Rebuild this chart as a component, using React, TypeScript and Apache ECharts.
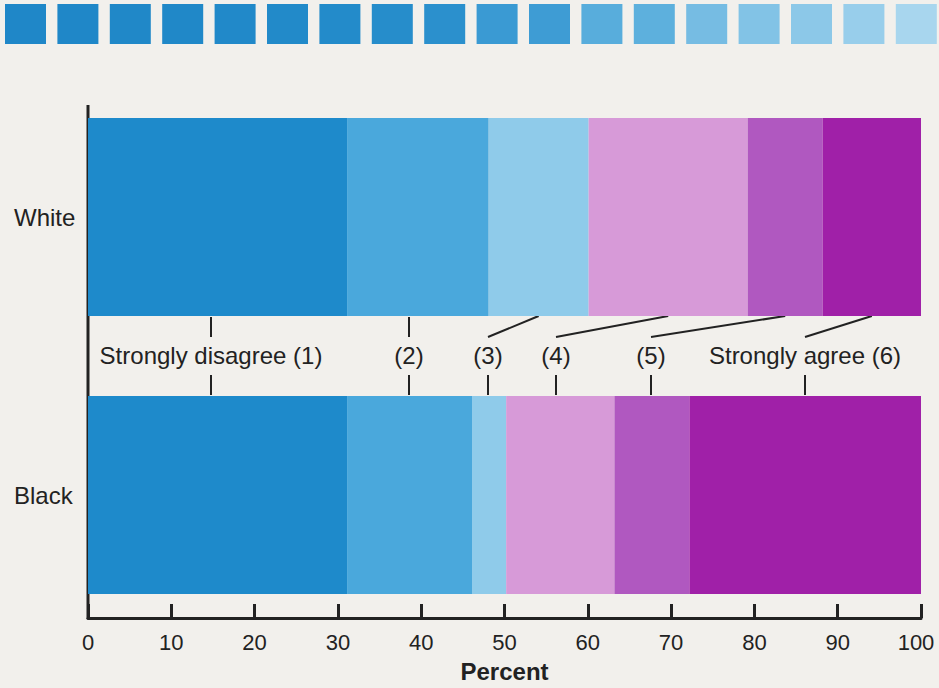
import React, { useEffect, useRef } from 'react';
import * as echarts from 'echarts';

const groups = ['White', 'Black'];
const responses = ['Strongly disagree (1)', '(2)', '(3)', '(4)', '(5)', 'Strongly agree (6)'];
const whiteValues = [31.1, 17.0, 12.0, 19.1, 9.0, 11.8];
const blackValues = [31.1, 15.0, 4.1, 13.0, 9.0, 27.8];
const xMin = 0;
const xMax = 100;
const xInterval = 10;
const segmentColors = ['#1E8ACB', '#4AA8DC', '#8FCBEA', '#D79AD8', '#B058C0', '#A020A8'];
const swatchColors = [
  '#1F87C8', '#1F87C8', '#2088C8', '#2088C8', '#2189C9', '#228AC9', '#238BCA', '#268DCB', '#2B90CD',
  '#3A9AD3', '#3E9CD4', '#58ADDC', '#5DB0DD', '#76BCE3', '#82C3E6', '#8CC8E8', '#98CEEB', '#A8D6EE',
];
const labelCenters = [211, 409, 488, 556, 651, 805];

const INK = '#222222';
const FONT = '"Liberation Sans", Arial, Helvetica, sans-serif';

export default function App() {
  const ref = useRef<HTMLDivElement>(null);

  useEffect(() => {
    document.body.style.margin = '0';
    if (!ref.current) return;
    const chart = echarts.init(ref.current, undefined, { renderer: 'svg' });

    const option: any = {
      animation: false,
      backgroundColor: '#F2F0EC',
      textStyle: { fontFamily: FONT },
      grid: { left: 88, right: 18, top: 78, bottom: 54, outerBoundsMode: 'none', containLabel: false },
      xAxis: {
        type: 'value',
        min: xMin,
        max: xMax,
        interval: xInterval,
        offset: -16,
        name: 'Percent',
        nameLocation: 'middle',
        nameGap: 41,
        nameTextStyle: { fontSize: 24, fontWeight: 'bold', color: INK, fontFamily: FONT },
        axisLine: { show: true, lineStyle: { color: INK, width: 3 } },
        axisTick: { show: true, inside: true, length: 14, lineStyle: { color: INK, width: 3 } },
        axisLabel: {
          fontSize: 22,
          color: INK,
          margin: 13,
          fontFamily: FONT,
          formatter: (v: number) => (v === xMax ? '{last|' + v + '}' : String(v)),
          rich: {
            last: { fontSize: 22, color: INK, fontFamily: FONT, padding: [0, 10, 0, 0] },
          },
        },
        splitLine: { show: false },
      },
      yAxis: {
        type: 'category',
        data: groups,
        inverse: true,
        axisLine: { show: false },
        axisTick: { show: false },
        axisLabel: { fontSize: 24, color: INK, align: 'left', margin: 74, fontFamily: FONT },
      },
      series: responses.map((name, i) => ({
        name,
        type: 'bar',
        stack: 'total',
        barWidth: 198,
        data: [whiteValues[i], blackValues[i]],
        itemStyle: { color: segmentColors[i] },
        emphasis: { disabled: true },
      })),
    };
    chart.setOption(option);

    const graphics: any[] = [];
    swatchColors.forEach((c, i) => {
      graphics.push({
        type: 'rect',
        shape: { x: 5 + i * 52.4, y: 4, width: 41, height: 40 },
        style: { fill: c },
        silent: true,
      });
    });
    graphics.push({
      type: 'line',
      shape: { x1: 88, y1: 105, x2: 88, y2: 619 },
      style: { stroke: INK, lineWidth: 3 },
      silent: true,
    });
    let cum = 0;
    responses.forEach((label, i) => {
      const mid = cum + whiteValues[i] / 2;
      cum += whiteValues[i];
      const midPx = chart.convertToPixel({ xAxisIndex: 0 }, mid) as number;
      const lx = labelCenters[i];
      graphics.push({
        type: 'text',
        style: {
          text: label,
          x: lx,
          y: 355,
          align: 'center',
          verticalAlign: 'middle',
          fontSize: 24,
          fontFamily: FONT,
          fill: INK,
        },
        silent: true,
      });
      if (i < 2) {
        graphics.push({
          type: 'line',
          shape: { x1: lx, y1: 317, x2: lx, y2: 337 },
          style: { stroke: INK, lineWidth: 2 },
          silent: true,
        });
      } else {
        graphics.push({
          type: 'line',
          shape: { x1: lx, y1: 337, x2: midPx, y2: 316 },
          style: { stroke: INK, lineWidth: 2 },
          silent: true,
        });
      }
      graphics.push({
        type: 'line',
        shape: { x1: lx, y1: 375, x2: lx, y2: 395 },
        style: { stroke: INK, lineWidth: 2 },
        silent: true,
      });
    });
    chart.setOption({ graphic: graphics });

    return () => chart.dispose();
  }, []);

  return (
    <div
      ref={ref}
      style={{ position: 'absolute', left: 0, top: 0, width: 939, height: 688, background: '#F2F0EC' }}
    />
  );
}
